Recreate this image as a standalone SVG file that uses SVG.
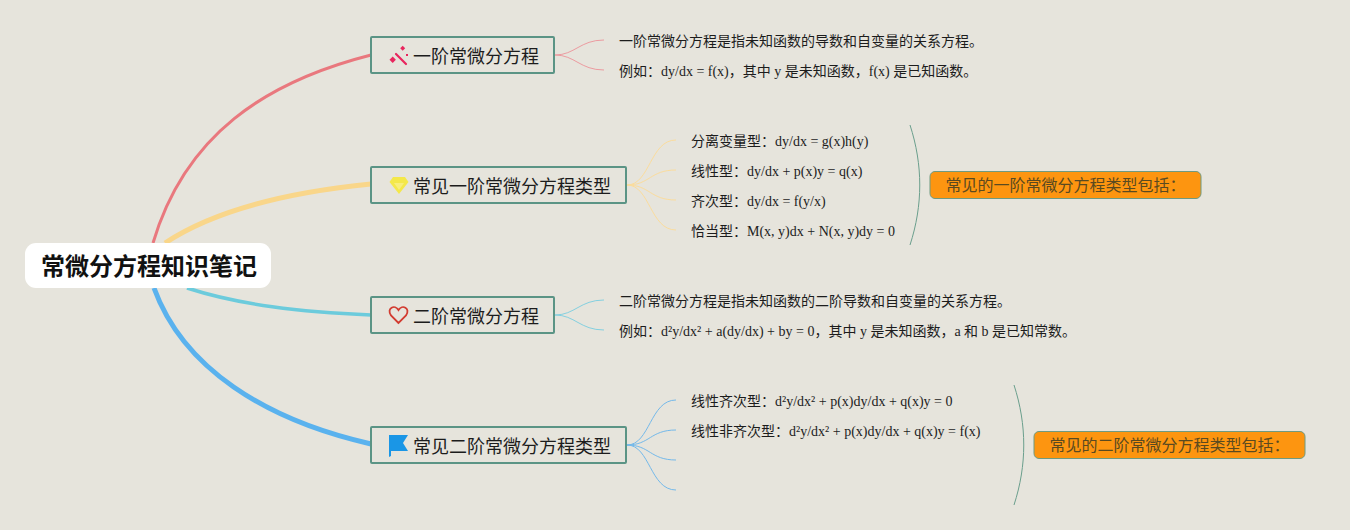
<svg xmlns="http://www.w3.org/2000/svg" width="1350" height="530" viewBox="0 0 1350 530">
<style>
text{font-family:"Liberation Serif","Noto Sans CJK SC",serif;fill:#1c1c1c}
.t{font-size:14px}
.b{font-family:"Noto Sans CJK SC",sans-serif;font-size:18px}
.o{font-family:"Noto Sans CJK SC",sans-serif;font-size:16px;fill:#5a4a20}
.box{fill:#e6e4dc;stroke:#5b9485;stroke-width:2}
.org{fill:#fd9510;stroke:#6f9a80;stroke-width:1}
.f{fill:none}
.br{fill:none;stroke:#6b9f8d;stroke-width:1}
</style>
<rect width="1350" height="530" fill="#e6e4dc"/>
<g id="connectors">
<path class="f" d="M153 243C185 135 265 82 371 55" stroke="#e9787e" stroke-width="3"/>
<path class="f" d="M165 243C215 210 290 192 371 184" stroke="#f9d68a" stroke-width="5"/>
<path class="f" d="M187 288C240 305 300 312 371 315" stroke="#6ccbdc" stroke-width="3.500"/>
<path class="f" d="M154 288C183 368 265 420 371 444" stroke="#5ab2ee" stroke-width="5"/>
<g stroke="#ec9ba0" stroke-width="1" fill="none">
<path d="M555 55C575 55 580 40 604 40"/><path d="M555 55C575 55 580 70 604 70"/></g>
<g stroke="#fbdc9c" stroke-width="1" fill="none">
<path d="M627 185C650 185 650 140 676 140"/><path d="M627 185C650 185 650 170 676 170"/><path d="M627 185C650 185 650 200 676 200"/><path d="M627 185C650 185 650 230 676 230"/></g>
<g stroke="#84d0e0" stroke-width="1" fill="none">
<path d="M555 315C575 315 580 300 604 300"/><path d="M555 315C575 315 580 330 604 330"/></g>
<g stroke="#74b9ea" stroke-width="1" fill="none">
<path d="M627 445C650 445 650 400 676 400"/><path d="M627 445C650 445 650 430 676 430"/><path d="M627 445C650 445 650 460 676 460"/><path d="M627 445C650 445 650 490 676 490"/></g>
<path class="br" d="M910 125C923 165 923 205 910 245"/>
<path class="br" d="M1014 385C1027 425 1027 465 1014 505"/>
</g>
<g id="root">
<rect x="25" y="243" width="246" height="45" rx="11" fill="#fff"/>
<text x="41" y="275" style="font-family:'Noto Sans CJK SC',sans-serif;font-size:24px;font-weight:700;fill:#111">常微分方程知识笔记</text>
</g>
<g id="n1">
<rect class="box" x="371" y="37" width="183" height="36" rx="1"/>
<path d="M396 54L406 64" stroke="#e8265e" stroke-width="2.200" stroke-linecap="round"/>
<g fill="#e8265e"><rect x="390.500" y="57.500" width="4.500" height="4.500" transform="rotate(45 392.700 59.700)"/><rect x="401" y="46.500" width="3.500" height="3.500" transform="rotate(45 402.700 48.200)"/><rect x="406" y="54" width="2" height="2"/></g>
<text class="b" x="413" y="63">一阶常微分方程</text>
</g>
<g id="n1a"><text class="t" x="619" y="46">一阶常微分方程是指未知函数的导数和自变量的关系方程。</text></g>
<g id="n1b"><text class="t" x="619" y="76">例如：dy/dx = f(x)，其中 y 是未知函数，f(x) 是已知函数。</text></g>
<g id="n2">
<rect class="box" x="371" y="167" width="255" height="36" rx="1"/>
<path d="M393 177h12l3.500 5-9.500 12-9.500-12z" fill="#f4e84a"/><path d="M394 183h10l-5 7z" fill="#f8ee7c"/>
<text class="b" x="413" y="193">常见一阶常微分方程类型</text>
</g>
<g id="n2a"><text class="t" x="691" y="146">分离变量型：dy/dx = g(x)h(y)</text></g>
<g id="n2b"><text class="t" x="691" y="176">线性型：dy/dx + p(x)y = q(x)</text></g>
<g id="n2c"><text class="t" x="691" y="206">齐次型：dy/dx = f(y/x)</text></g>
<g id="n2d"><text class="t" x="691" y="236">恰当型：M(x, y)dx + N(x, y)dy = 0</text></g>
<g id="n2s">
<rect class="org" x="930" y="171.500" width="271" height="27" rx="5"/>
<text class="o" x="945.500" y="190.500">常见的一阶常微分方程类型包括：</text>
</g>
<g id="n3">
<rect class="box" x="371" y="297" width="183" height="36" rx="1"/>
<path d="M398.500 323L391 315.500C386 308 395 304 398.500 310C402 304 411 308 406 315.500Z" fill="none" stroke="#d23b30" stroke-width="1.800"/>
<text class="b" x="413" y="323">二阶常微分方程</text>
</g>
<g id="n3a"><text class="t" x="619" y="306">二阶常微分方程是指未知函数的二阶导数和自变量的关系方程。</text></g>
<g id="n3b"><text class="t" x="619" y="336">例如：d²y/dx² + a(dy/dx) + by = 0，其中 y 是未知函数，a 和 b 是已知常数。</text></g>
<g id="n4">
<rect class="box" x="371" y="427" width="255" height="36" rx="1"/>
<path d="M389 435h19l-5 8 5 8h-17v5l-2 1z" fill="#1a96e6"/>
<text class="b" x="413" y="453">常见二阶常微分方程类型</text>
</g>
<g id="n4a"><text class="t" x="691" y="406">线性齐次型：d²y/dx² + p(x)dy/dx + q(x)y = 0</text></g>
<g id="n4b"><text class="t" x="691" y="436">线性非齐次型：d²y/dx² + p(x)dy/dx + q(x)y = f(x)</text></g>
<g id="n4s">
<rect class="org" x="1034" y="431.500" width="271" height="27" rx="5"/>
<text class="o" x="1049.500" y="450.500">常见的二阶常微分方程类型包括：</text>
</g>
</svg>
